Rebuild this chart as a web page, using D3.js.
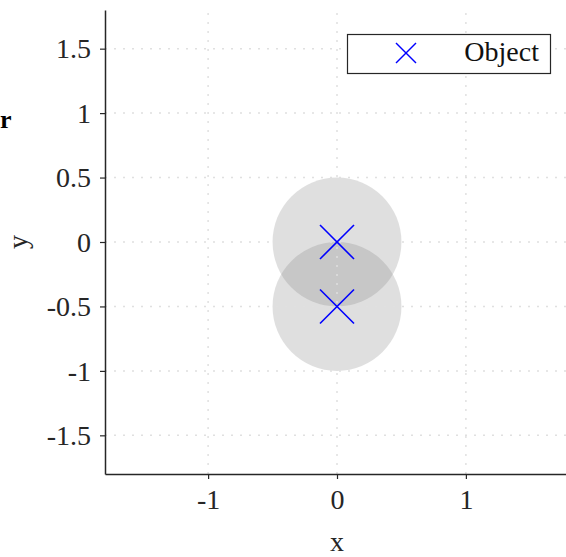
<!DOCTYPE html>
<html><head><meta charset="utf-8">
<script src="https://cdn.jsdelivr.net/npm/d3@7"></script>
<style>body{margin:0;background:#fff}svg{display:block}text{font-family:"Liberation Serif","DejaVu Serif",serif}</style>
</head><body>
<script>
const objX = [0, 0];
const objY = [0, -0.5];
const radii = [0.5, 0.5];
const ticks = [-1.5, -1, -0.5, 0, 0.5, 1, 1.5];
const xTicks = [-1, 0, 1];
const tickLabels = {"-1.5":"-1.5","-1":"-1","-0.5":"-0.5","0":"0","0.5":"0.5","1":"1","1.5":"1.5"};
const legendLabel = "Object";

const W = 566, H = 557;
const svg = d3.select("body").append("svg").attr("width", W).attr("height", H);
const L = 105, R = 569, T = 10, B = 474;
const x = d3.scaleLinear().domain([-1.8, 1.8]).range([L, R]);
const y = d3.scaleLinear().domain([-1.8, 1.8]).range([B, T]);
const fs = 28;

// shaded regions
svg.append("g").selectAll("circle").data(objX).join("circle")
  .attr("cx", (d,i) => x(objX[i])).attr("cy", (d,i) => y(objY[i]))
  .attr("r", (d,i) => x(radii[i]) - x(0))
  .attr("fill", "#808080").attr("fill-opacity", 0.25);

// grid
const grid = svg.append("g").attr("stroke", "#e0e0e0").attr("stroke-width", 1.5).attr("stroke-dasharray", "2,7");
grid.selectAll(".gx").data(xTicks).join("line")
  .attr("x1", d => x(d)).attr("x2", d => x(d)).attr("y1", B).attr("y2", T);
grid.selectAll(".gy").data(ticks).join("line")
  .attr("y1", d => y(d)).attr("y2", d => y(d)).attr("x1", L).attr("x2", R);

// markers
const ms = 17;
const mk = svg.append("g").attr("stroke", "#0000ff").attr("stroke-width", 1.6);
objX.forEach((v, i) => {
  const cx = x(v), cy = y(objY[i]);
  mk.append("line").attr("x1", cx-ms).attr("y1", cy-ms).attr("x2", cx+ms).attr("y2", cy+ms);
  mk.append("line").attr("x1", cx-ms).attr("y1", cy+ms).attr("x2", cx+ms).attr("y2", cy-ms);
});

// axes
const xa = svg.append("g").attr("transform", `translate(0,${B})`)
  .call(d3.axisBottom(x).tickValues(xTicks).tickSize(5).tickSizeOuter(0).tickPadding(10).tickFormat(d => tickLabels[String(d)]));
const ya = svg.append("g").attr("transform", `translate(${L},0)`)
  .call(d3.axisLeft(y).tickValues(ticks).tickSize(5).tickSizeOuter(0).tickPadding(9).tickFormat(d => tickLabels[String(d)]));
[xa, ya].forEach(a => {
  a.select(".domain").attr("stroke", "#262626").attr("stroke-width", 1.5);
  a.selectAll(".tick line").attr("stroke", "#262626").attr("stroke-width", 1.2);
  a.selectAll("text").attr("font-size", fs).attr("fill", "#262626").attr("font-family", '"Liberation Serif",serif');
});
ya.selectAll("text").attr("dy", "0.33em");

// axis labels
svg.append("text").attr("x", x(0)).attr("y", 551).attr("text-anchor", "middle")
  .attr("font-size", fs).attr("fill", "#262626").text("x");
svg.append("text").attr("transform", `translate(27,${y(0)}) rotate(-90)`).attr("text-anchor", "middle")
  .attr("font-size", fs).attr("fill", "#262626").text("y");

// cut-off label
svg.append("text").attr("x", 0).attr("y", 128).attr("text-anchor", "start")
  .attr("font-size", 26).attr("font-weight", "bold").attr("fill", "#000").text("r");

// legend
const lg = svg.append("g");
lg.append("rect").attr("x", 347.5).attr("y", 34.5).attr("width", 203).attr("height", 39)
  .attr("fill", "#fff").attr("stroke", "#262626").attr("stroke-width", 1.2);
const lx = 406, ly = 53, ls = 10;
lg.append("line").attr("x1", lx-ls).attr("y1", ly-ls).attr("x2", lx+ls).attr("y2", ly+ls).attr("stroke", "#0000ff").attr("stroke-width", 1.5);
lg.append("line").attr("x1", lx-ls).attr("y1", ly+ls).attr("x2", lx+ls).attr("y2", ly-ls).attr("stroke", "#0000ff").attr("stroke-width", 1.5);
lg.append("text").attr("x", 539).attr("y", 61).attr("text-anchor", "end").attr("font-size", fs).attr("fill", "#111").text(legendLabel);
</script>
</body></html>
